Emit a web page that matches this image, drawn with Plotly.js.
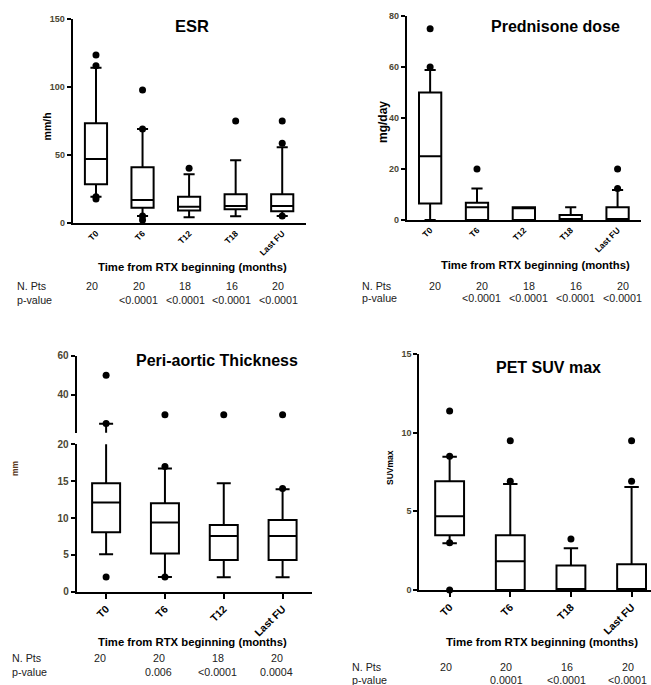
<!DOCTYPE html>
<html>
<head>
<meta charset="utf-8">
<script src="https://cdn.plot.ly/plotly-3.0.1.min.js"></script>
<style>html,body{margin:0;padding:0;background:#fff;}#chart{width:651px;height:685px;}</style>
</head>
<body>
<div id="chart"></div>
<script>
// ---------- ESR ----------
const esrCats = ['T0', 'T6', 'T12', 'T18', 'Last FU'];
const esrQ1 = [28.7, 11.5, 9.5, 10.3, 8.8];
const esrMedian = [47.3, 17.1, 12.2, 12.7, 12.7];
const esrQ3 = [73.5, 41.2, 19.6, 21.3, 21.3];
const esrLow = [19.5, 5.4, 4.4, 5.1, 5.4];
const esrHigh = [114.4, 69.3, 36.0, 46.3, 55.9];
const esrOutX = ['T0', 'T0', 'T0', 'T0', 'T6', 'T6', 'T6', 'T6', 'T12', 'T18', 'Last FU', 'Last FU', 'Last FU'];
const esrOutY = [123.7, 115.9, 19.6, 17.9, 98, 69.3, 5.4, 2.4, 40.4, 75.2, 75.2, 58.8, 5.4];
const esrN = ['20', '20', '18', '16', '20'];
const esrP = ['', '<0.0001', '<0.0001', '<0.0001', '<0.0001'];

// ---------- Prednisone dose ----------
const predCats = ['T0', 'T6', 'T12', 'T18', 'Last FU'];
const predQ1 = [6.5, 0, 0, 0, 0];
const predMedian = [25, 5, 5, 0, 0];
const predQ3 = [50, 6.8, 5, 2, 5];
const predLow = [0, 0, 0, 0, 0];
const predHigh = [58.8, 12.4, 5, 5, 11.8];
const predOutX = ['T0', 'T0', 'T6', 'Last FU', 'Last FU'];
const predOutY = [75, 60, 20, 20, 12.4];
const predN = ['20', '20', '18', '16', '20'];
const predP = ['', '<0.0001', '<0.0001', '<0.0001', '<0.0001'];

// ---------- Peri-aortic Thickness (broken axis: 0-20 and ~21-60) ----------
const periCats = ['T0', 'T6', 'T12', 'Last FU'];
const periQ1 = [8.05, 5.2, 4.3, 4.3];
const periMedian = [12.1, 9.4, 7.55, 7.55];
const periQ3 = [14.7, 12.0, 9.05, 9.73];
const periLow = [5.07, 2.0, 1.95, 1.95];
const periHigh = [25.3, 16.7, 14.7, 13.9];
const periOutLowX = ['T0', 'T6', 'T6', 'Last FU'];
const periOutLowY = [2, 17, 2, 14];
const periOutHighX = ['T0', 'T0', 'T6', 'T12', 'Last FU'];
const periOutHighY = [50, 25.5, 30, 30, 30];
const periN = ['20', '20', '18', '20'];
const periP = ['', '0.006', '<0.0001', '0.0004'];

// ---------- PET SUV max ----------
const petCats = ['T0', 'T6', 'T18', 'Last FU'];
const petQ1 = [3.48, 0, 0, 0];
const petMedian = [4.68, 1.82, 0, 0];
const petQ3 = [6.91, 3.48, 1.55, 1.63];
const petLow = [2.97, 0, 0, 0];
const petHigh = [8.47, 6.74, 2.65, 6.55];
const petOutX = ['T0', 'T0', 'T0', 'T0', 'T6', 'T6', 'T18', 'Last FU', 'Last FU'];
const petOutY = [11.38, 8.5, 3.0, 0, 9.49, 6.91, 3.24, 9.49, 6.91];
const petN = ['20', '20', '16', '20'];
const petP = ['', '0.0001', '<0.0001', '<0.0001'];

const FONT = 'Liberation Sans, Arial, sans-serif';
const TICKCOL = '#4b4632';

function boxTrace(cats, q1, med, q3, lo, hi, xa, ya) {
  return {
    type: 'box', x: cats, q1: q1, median: med, q3: q3,
    lowerfence: lo, upperfence: hi,
    xaxis: xa, yaxis: ya,
    boxpoints: false, whiskerwidth: 0.5,
    fillcolor: 'rgba(255,255,255,0)',
    line: {color: '#000', width: 2},
    showlegend: false, hoverinfo: 'skip'
  };
}
function outTrace(xs, ys, xa, ya) {
  return {
    type: 'scatter', mode: 'markers', x: xs, y: ys,
    xaxis: xa, yaxis: ya, cliponaxis: false,
    marker: {color: '#000', size: 7},
    showlegend: false, hoverinfo: 'skip'
  };
}

const data = [
  boxTrace(esrCats, esrQ1, esrMedian, esrQ3, esrLow, esrHigh, 'x', 'y'),
  outTrace(esrOutX, esrOutY, 'x', 'y'),
  boxTrace(predCats, predQ1, predMedian, predQ3, predLow, predHigh, 'x2', 'y2'),
  outTrace(predOutX, predOutY, 'x2', 'y2'),
  boxTrace(periCats, periQ1, periMedian, periQ3, periLow, periHigh, 'x3', 'y3'),
  outTrace(periOutLowX, periOutLowY, 'x3', 'y3'),
  boxTrace(periCats, periQ1, periMedian, periQ3, periLow, periHigh, 'x3', 'y5'),
  outTrace(periOutHighX, periOutHighY, 'x3', 'y5'),
  boxTrace(petCats, petQ1, petMedian, petQ3, petLow, petHigh, 'x4', 'y4'),
  outTrace(petOutX, petOutY, 'x4', 'y4')
];

function xAxis(domain, cats, range, anchor, ticks, fs) {
  return {
    domain: domain, anchor: anchor, type: 'category',
    categoryorder: 'array', categoryarray: cats,
    range: range, showline: true, linecolor: '#000', linewidth: 2,
    ticks: ticks, ticklen: 5, tickwidth: 2, tickcolor: '#000',
    tickangle: -45, showgrid: false, zeroline: false,
    tickfont: {family: FONT, size: fs, color: '#000', weight: 'bold'},
    fixedrange: true
  };
}
function yAxis(domain, range, tickvals, anchor, fs) {
  return {
    domain: domain, anchor: anchor, range: range,
    tickvals: tickvals, ticktext: tickvals.map(String),
    showline: true, linecolor: '#000', linewidth: 2,
    ticks: 'outside', ticklen: 4, tickwidth: 2, tickcolor: '#000',
    showgrid: false, zeroline: false,
    tickfont: {family: FONT, size: fs, color: TICKCOL, weight: 'bold'},
    fixedrange: true
  };
}

const W = 651, H = 685;
const px = v => v / W;
const py = v => (H - v) / H;

const layout = {
  width: W, height: H,
  margin: {l: 0, r: 0, t: 0, b: 0},
  paper_bgcolor: '#fff', plot_bgcolor: 'rgba(0,0,0,0)',
  boxgap: 0.32,
  showlegend: false,
  xaxis: xAxis([px(72.7), px(305.5)], esrCats, [-0.5, 4.5], 'y', '', 8.5),
  yaxis: yAxis([py(223.3), py(19.3)], [0, 150], [0, 50, 100, 150], 'x', 9),
  xaxis2: xAxis([px(406.7), px(641)], predCats, [-0.5, 4.5], 'y2', '', 8.5),
  yaxis2: yAxis([py(220), py(16)], [0, 80], [0, 20, 40, 60, 80], 'x2', 9),
  xaxis3: xAxis([px(76.7), px(312)], periCats, [-0.5, 3.5], 'y3', 'outside', 10.5),
  yaxis3: yAxis([py(591.7), py(444.3)], [0, 20], [0, 5, 10, 15, 20], 'x3', 10),
  yaxis5: yAxis([py(432.7), py(355.7)], [20.8, 60], [40, 60], 'x3', 10),
  xaxis4: xAxis([px(419.3), 1], petCats, [-0.5, 3.32], 'y4', 'outside', 10.5),
  yaxis4: yAxis([py(590), py(354)], [0, 15], [0, 5, 10, 15], 'x4', 9),
  annotations: []
};

const ann = layout.annotations;
function txt(text, x, y, opts) {
  ann.push(Object.assign({
    text: text, x: x, y: y, xref: 'paper', yref: 'paper',
    xanchor: 'center', yanchor: 'middle', showarrow: false,
    font: {family: FONT, size: 11, color: '#000'}
  }, opts || {}));
}
const boldFont = (s, c) => ({family: FONT, size: s, color: c || '#000', weight: 'bold'});

// panel titles
txt('ESR', px(192), py(26), {font: boldFont(16.5)});
txt('Prednisone dose', px(555), py(26), {font: boldFont(16)});
txt('Peri-aortic Thickness', px(216.7), py(360.7), {font: boldFont(16)});
txt('PET SUV max', px(548), py(368), {font: boldFont(16)});

// x-axis titles
const xt = 'Time from RTX beginning (months)';
txt(xt, px(193), py(267), {font: boldFont(11.3)});
txt(xt, px(535), py(265), {font: boldFont(11.3)});
txt(xt, px(193), py(641.7), {font: boldFont(11.3)});
txt(xt, px(541.7), py(641.7), {font: boldFont(11.5)});

// y-axis titles
txt('mm/h', px(46.7), py(126.7), {textangle: -90, font: boldFont(10.5)});
txt('mg/day', px(383), py(122), {textangle: -90, font: boldFont(12)});
txt('mm', px(15), py(468), {textangle: -90, font: boldFont(8.5, '#5a3a1e')});
txt('SUVmax', px(390), py(468), {textangle: -90, font: boldFont(8.5)});

// N. Pts / p-value rows
const rowFont = {family: FONT, size: 10.7, color: '#222'};
function rows(cats, nvals, pvals, xa, yN, yP, leftX, shift) {
  txt('N. Pts', px(leftX), py(yN), {xanchor: 'left', font: rowFont});
  txt('p-value', px(leftX), py(yP), {xanchor: 'left', font: rowFont});
  cats.forEach((c, i) => {
    txt(nvals[i], c, py(yN), {xref: xa, xshift: shift, font: rowFont});
    if (pvals[i]) txt(pvals[i], c, py(yP), {xref: xa, xshift: shift, font: rowFont});
  });
}
rows(esrCats, esrN, esrP, 'x', 285.7, 300, 15, -4);
rows(predCats, predN, predP, 'x2', 285.7, 298, 360, 5);
rows(periCats, periN, periP, 'x3', 658, 672, 10, -6);
rows(petCats, petN, petP, 'x4', 666.7, 680, 350, -4);

Plotly.newPlot('chart', data, layout, {staticPlot: true, displayModeBar: false});
</script>
</body>
</html>
